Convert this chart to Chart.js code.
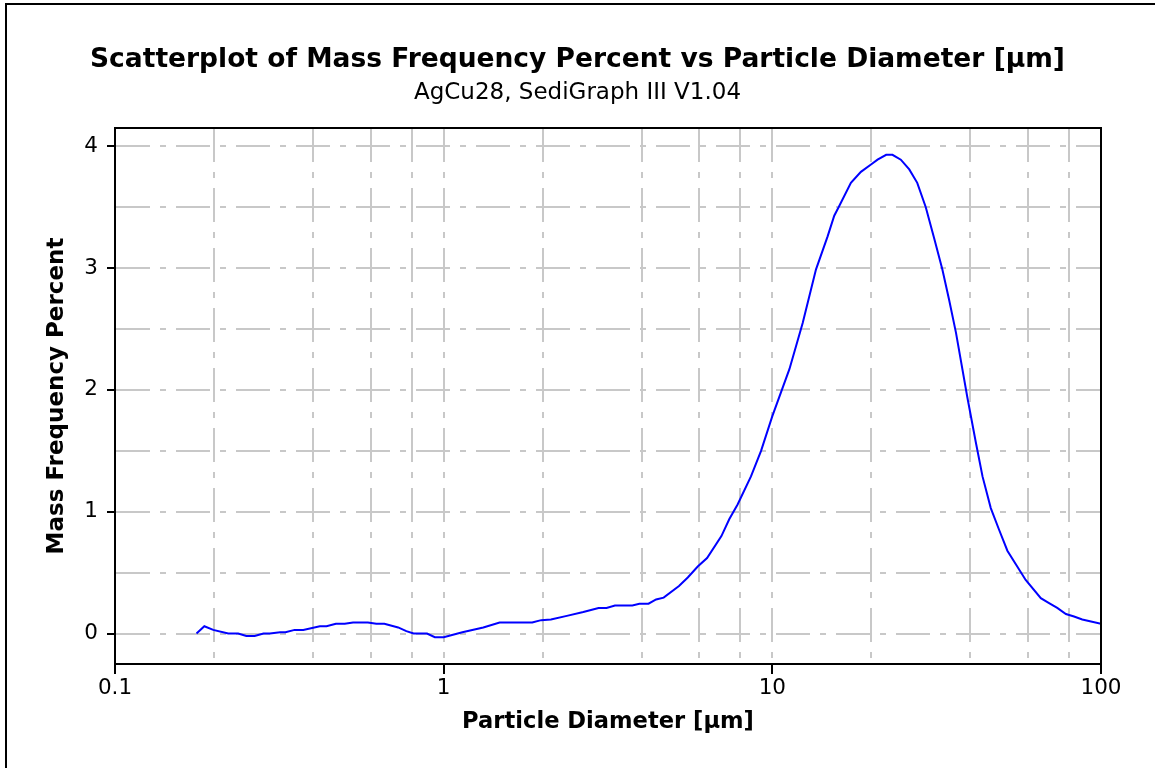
<!DOCTYPE html>
<html>
<head>
<meta charset="utf-8">
<title>Mass Frequency Percent vs Particle Diameter</title>
<script src="https://cdn.jsdelivr.net/npm/chart.js@4.4.1/dist/chart.umd.min.js"></script>
<style>
  html, body { margin: 0; padding: 0; background: #fff; overflow: hidden; }
  #wrap { position: relative; width: 1155px; height: 768px; }
  #frame {
    position: absolute; left: 5px; top: 3px; width: 1170px; height: 790px;
    border: 2px solid #000; box-sizing: border-box; pointer-events: none;
  }
</style>
</head>
<body>
<div id="wrap">
  <canvas id="grafico" width="1155" height="768"></canvas>
  <div id="frame"></div>
</div>
<script>
// Dados (diâmetro em µm, frequência mássica em %)
const diameters = [
  0.177, 0.187, 0.199, 0.221, 0.237, 0.251, 0.266, 0.283, 0.296, 0.318,
  0.33, 0.352, 0.374, 0.42, 0.44, 0.47, 0.50, 0.53, 0.588, 0.624,
  0.66, 0.727, 0.77, 0.81, 0.89, 0.94, 1.0, 1.14, 1.32, 1.48,
  1.86, 1.98, 2.12, 2.37, 2.66, 2.96, 3.13, 3.32, 3.75, 3.94,
  4.2, 4.43, 4.67, 5.2, 5.53, 5.93, 6.33, 7.0, 7.4, 7.84,
  8.61, 9.24, 10.0, 11.27, 12.37, 13.58, 14.73, 15.43, 15.98, 17.34,
  18.6, 19.96, 20.9, 22.2, 23.2, 24.6, 26.1, 27.6, 29.3, 31.1,
  32.9, 34.5, 36.2, 39.2, 41.6, 43.6, 46.2, 49.0, 51.9, 59.0,
  65.6, 69.5, 73.6, 78.2, 82.8, 87.7, 100
];
const massFreq = [
  0.0, 0.06, 0.03, 0.0, 0.0, -0.02, -0.02, 0.0, 0.0, 0.01,
  0.01, 0.03, 0.03, 0.06, 0.06, 0.08, 0.08, 0.09, 0.09, 0.08,
  0.08, 0.05, 0.02, 0.0, 0.0, -0.03, -0.03, 0.01, 0.05, 0.09,
  0.09, 0.11, 0.115, 0.145, 0.177, 0.21, 0.21, 0.23, 0.23, 0.245,
  0.245, 0.28, 0.295, 0.39, 0.46, 0.55, 0.62, 0.80, 0.94, 1.06,
  1.29, 1.50, 1.785, 2.17, 2.55, 2.99, 3.26, 3.43, 3.51, 3.70,
  3.79, 3.85, 3.89, 3.93, 3.93, 3.89, 3.81, 3.70, 3.50, 3.24,
  2.99, 2.74, 2.47, 1.94, 1.57, 1.29, 1.03, 0.85, 0.68, 0.44,
  0.29, 0.25, 0.21, 0.16, 0.14, 0.115, 0.08
];

// Eixos: linhas de grade e rótulos
const xGridValues = [0.1, 0.2, 0.4, 0.6, 0.8, 1, 2, 4, 6, 8, 10, 20, 40, 60, 80, 100];
const xTickLabels = [0.1, 1, 10, 100];
const yGridValues = [0, 0.5, 1, 1.5, 2, 2.5, 3, 3.5, 4];
const yTickLabels = [0, 1, 2, 3, 4];

const FONTE = "'DejaVu Sans', Verdana, sans-serif";
const CINZA = '#c8c8c8';
const TRACO = [34, 10, 6, 10];

// Moldura preta em volta da área do gráfico
const molduraArea = {
  id: 'molduraArea',
  afterDraw(chart) {
    const { ctx, chartArea: a } = chart;
    ctx.save();
    ctx.strokeStyle = '#000';
    ctx.lineWidth = 2;
    ctx.strokeRect(a.left, a.top, a.right - a.left, a.bottom - a.top);
    ctx.restore();
  }
};

const pontos = diameters.map((d, i) => ({ x: d, y: massFreq[i] }));

new Chart(document.getElementById('grafico'), {
  type: 'line',
  data: {
    datasets: [{
      label: 'Mass Frequency Percent',
      data: pontos,
      borderColor: '#0000ff',
      borderWidth: 2,
      pointRadius: 0,
      tension: 0,
      fill: false
    }]
  },
  options: {
    responsive: false,
    animation: false,
    layout: { padding: 0 },
    plugins: {
      legend: { display: false },
      tooltip: { enabled: false },
      title: {
        display: true,
        text: 'Scatterplot of Mass Frequency Percent vs Particle Diameter [µm]',
        color: '#000',
        font: { family: FONTE, size: 26.5, weight: 'bold' },
        padding: { top: 44.1, bottom: 0 }
      },
      subtitle: {
        display: true,
        text: 'AgCu28, SediGraph III V1.04',
        color: '#000',
        font: { family: FONTE, size: 23 },
        padding: { top: 3.3, bottom: 21.2 }
      }
    },
    scales: {
      x: {
        type: 'logarithmic',
        min: 0.1,
        max: 100,
        afterBuildTicks: (scale) => { scale.ticks = xGridValues.map(v => ({ value: v })); },
        afterFit: (scale) => { scale.height = 104; },
        ticks: {
          autoSkip: false,
          maxRotation: 0,
          padding: 2,
          color: '#000',
          font: { family: FONTE, size: 21.5 },
          callback: (v) => xTickLabels.includes(v) ? String(v) : ''
        },
        grid: {
          color: CINZA,
          lineWidth: 2,
          borderDash: TRACO,
          tickLength: 10,
          tickWidth: 2,
          tickBorderDash: [],
          tickColor: (c) => (c.tick && xTickLabels.includes(c.tick.value)) ? '#000' : 'rgba(0,0,0,0)'
        },
        border: { display: true, color: '#000', width: 2, dash: TRACO },
        title: {
          display: true,
          text: 'Particle Diameter [µm]',
          color: '#000',
          font: { family: FONTE, size: 22.6, weight: 'bold' },
          padding: { top: 0, bottom: 32.4 }
        }
      },
      y: {
        min: -0.25,
        max: 4.15,
        afterBuildTicks: (scale) => { scale.ticks = yGridValues.map(v => ({ value: v })); },
        afterFit: (scale) => { scale.width = 115; },
        ticks: {
          autoSkip: false,
          padding: 9,
          color: '#000',
          font: { family: FONTE, size: 21.5 },
          callback: (v) => yTickLabels.includes(v) ? String(v) : ''
        },
        grid: {
          color: CINZA,
          lineWidth: 2,
          borderDash: TRACO,
          tickLength: 8,
          tickWidth: 2,
          tickBorderDash: [],
          tickColor: (c) => (c.tick && yTickLabels.includes(c.tick.value)) ? '#000' : 'rgba(0,0,0,0)'
        },
        border: { display: true, color: '#000', width: 2, dash: TRACO },
        title: {
          display: true,
          text: 'Mass Frequency Percent',
          color: '#000',
          font: { family: FONTE, size: 23, weight: 'bold' },
          padding: { top: 43.2, bottom: 0 }
        }
      },
      // eixo vazio à direita: só reserva a margem, assim o título fica centrado na página
      margemDireita: {
        type: 'linear',
        position: 'right',
        display: true,
        afterFit: (scale) => { scale.width = 54; },
        ticks: { display: false },
        grid: { display: false },
        border: { display: false }
      }
    }
  },
  plugins: [molduraArea]
});
</script>
</body>
</html>
